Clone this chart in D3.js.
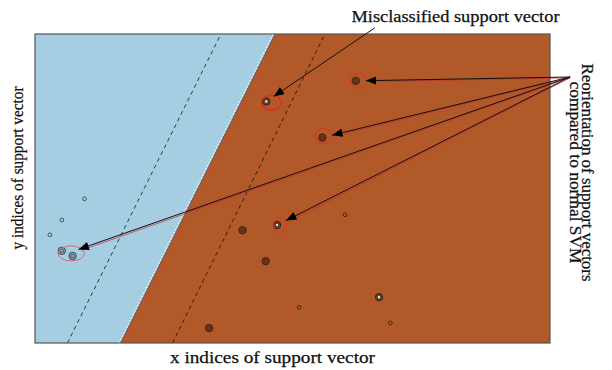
<!DOCTYPE html>
<html>
<head>
<meta charset="utf-8">
<script src="https://cdn.jsdelivr.net/npm/d3@7"></script>
<style>
  html, body { margin: 0; padding: 0; background: #fff; }
  svg { display: block; }
  text { font-family: "Liberation Serif", "Times New Roman", serif; fill: #111; stroke: #111; stroke-width: 0.25px; }
</style>
</head>
<body>
<svg id="chart" width="612" height="370"></svg>
<script>
// Feature space extent (x: 0..100, y: 0..60)
const xDomain = [0, 100];
const yDomain = [0, 60];

// Separating hyperplane and its two margins, given by x at y = 0 and at y = 60
const boundaryX = [16.6, 46.6];
const marginLeftX = [6.3, 36.1];
const marginRightX = [26.7, 56.3];

// Support vectors: position and kind (0 = plain, 1 = ringed, 2 = ringed with light core)
const pointX = [44.9, 62.3, 55.8, 9.6, 5.2, 2.9, 5.2, 7.3, 47.0, 40.3, 60.2, 44.8, 66.8, 51.3, 69.0, 33.8];
const pointY = [46.9, 50.9, 39.9, 28.0, 23.9, 21.0, 17.9, 16.9, 22.9, 21.9, 24.9, 15.9, 8.9, 6.9, 3.9, 2.9];
const pointKind = [2, 1, 1, 0, 0, 0, 1, 1, 2, 1, 0, 1, 2, 0, 0, 1];

// Misclassified vector and reoriented vectors (groups of point indices)
const misclassified = [0];
const reoriented = [[1], [2], [8], [6, 7]];

// Annotation anchors in feature space
const misLabelAnchor = [66.0, 61.2];
const reorientAnchor = [103.9, 51.65];

// Text
const xTitle = "x indices of support vector";
const yTitle = "y indices of support vector";
const misLabel = "Misclassified support vector";
const reorientLines = ["Reorientation of support vectors", "compared to normal SVM"];

const svg = d3.select("#chart");
const x = d3.scaleLinear().domain(xDomain).range([35, 550]);
const y = d3.scaleLinear().domain(yDomain).range([343, 34]);

const poly = d3.line().x(d => x(d[0])).y(d => y(d[1]));

// Class regions
svg.append("path")
  .attr("d", poly([[xDomain[0], yDomain[0]], [xDomain[0], yDomain[1]], [boundaryX[1], yDomain[1]], [boundaryX[0], yDomain[0]]]) + "Z")
  .attr("fill", "#a6cee3");
svg.append("path")
  .attr("d", poly([[boundaryX[0], yDomain[0]], [boundaryX[1], yDomain[1]], [xDomain[1], yDomain[1]], [xDomain[1], yDomain[0]]]) + "Z")
  .attr("fill", "#b15928");

// Ragged edge of the decision boundary
const bLine = [[boundaryX[0], yDomain[0]], [boundaryX[1], yDomain[1]]];
svg.append("path")
  .attr("d", poly(bLine))
  .attr("transform", "translate(-1.3,0)")
  .attr("stroke", "#eef2f4").attr("stroke-width", 1.8)
  .attr("stroke-dasharray", "1.6,1.8").attr("fill", "none");
svg.append("path")
  .attr("d", poly(bLine))
  .attr("stroke", "#3d4a55").attr("stroke-width", 0.8).attr("fill", "none");

// Margins
[[marginLeftX, "#2c3a48"], [marginRightX, "#3a1d0c"]].forEach(([m, c]) => {
  svg.append("path")
    .attr("d", poly([[m[0], yDomain[0]], [m[1], yDomain[1]]]))
    .attr("stroke", c).attr("stroke-width", 1)
    .attr("stroke-dasharray", "4,3.5").attr("fill", "none");
});

// Plot frame
svg.append("rect")
  .attr("x", x(xDomain[0])).attr("y", y(yDomain[1]))
  .attr("width", x(xDomain[1]) - x(xDomain[0]))
  .attr("height", y(yDomain[0]) - y(yDomain[1]))
  .attr("fill", "none").attr("stroke", "#555").attr("stroke-width", 1.2);

// Support vectors
const pts = pointX.map((v, i) => ({ x: v, y: pointY[i], k: pointKind[i] }));
const g = svg.append("g");
pts.forEach(p => {
  const cx = x(p.x), cy = y(p.y);
  const onBlue = p.x < boundaryX[0] + (boundaryX[1] - boundaryX[0]) * p.y / yDomain[1];
  const ink = onBlue ? "#3b4652" : "#3a2214";
  if (p.k === 0) {
    g.append("circle").attr("cx", cx).attr("cy", cy).attr("r", 1.9)
      .attr("fill", "none").attr("stroke", ink).attr("stroke-width", 0.9);
  } else {
    g.append("circle").attr("cx", cx).attr("cy", cy).attr("r", 3.7)
      .attr("fill", onBlue ? "#8fa6b4" : "#7a3c1c").attr("stroke", ink).attr("stroke-width", 1);
    g.append("circle").attr("cx", cx).attr("cy", cy).attr("r", 1.8)
      .attr("fill", p.k === 2 ? "#cfe3ee" : "none").attr("stroke", ink).attr("stroke-width", 0.8);
  }
});

// Red highlight rings
const center = idx => [d3.mean(idx, i => x(pointX[i])), d3.mean(idx, i => y(pointY[i]))];
function ring(idx, dx, dy, rx, ry, color, w) {
  const c = center(idx);
  svg.append("ellipse").attr("cx", c[0] + dx).attr("cy", c[1] + dy)
    .attr("rx", rx).attr("ry", ry)
    .attr("fill", "none").attr("stroke", color).attr("stroke-width", w);
}
ring(misclassified, 5, 1.2, 10, 7.6, "#e8262a", 1.3);
ring(reoriented[0], 2.5, 0, 8, 7.5, "#e0302c", 1);
ring(reoriented[1], 1, -1.5, 8.5, 7.5, "#e0302c", 1);
ring(reoriented[2], 3, 0, 6.5, 8.2, "#e0302c", 0.9);
ring(reoriented[3], 4, 0, 13.3, 7.5, "#d6606c", 0.9);

// Arrowheads
const defs = svg.append("defs");
defs.append("marker")
  .attr("id", "head").attr("viewBox", "0 0 10 8")
  .attr("refX", 10).attr("refY", 4)
  .attr("markerWidth", 10.5).attr("markerHeight", 8.4)
  .attr("markerUnits", "userSpaceOnUse")
  .attr("orient", "auto")
  .append("path").attr("d", "M0,0 L10,4 L0,8 Z").attr("fill", "#000");

function arrow(from, idx, gap, tinted) {
  const s = [x(from[0]), y(from[1])];
  const t = center(idx);
  const len = Math.hypot(s[0] - t[0], s[1] - t[1]);
  const e = [t[0] + (s[0] - t[0]) * gap / len, t[1] + (s[1] - t[1]) * gap / len];
  if (tinted) {
    svg.append("line").attr("x1", s[0]).attr("y1", s[1] + 0.8).attr("x2", e[0] + 3).attr("y2", e[1] + 0.8)
      .attr("stroke", "#c2303a").attr("stroke-width", 0.9).attr("opacity", 0.8);
  }
  svg.append("line").attr("x1", s[0]).attr("y1", s[1]).attr("x2", e[0]).attr("y2", e[1])
    .attr("stroke", "#111").attr("stroke-width", 1)
    .attr("marker-end", "url(#head)");
}
arrow(misLabelAnchor, misclassified, 9, false);
reoriented.forEach((grp, i) => arrow(reorientAnchor, grp, grp.length > 1 ? 12 : 10, true));

// Labels
svg.append("text")
  .attr("x", 351.5).attr("y", 22)
  .attr("font-size", 16.5)
  .attr("textLength", 208).attr("lengthAdjust", "spacingAndGlyphs")
  .text(misLabel);

svg.append("text")
  .attr("x", 170).attr("y", 363)
  .attr("font-size", 16.5)
  .attr("textLength", 205).attr("lengthAdjust", "spacingAndGlyphs")
  .text(xTitle);

svg.append("text")
  .attr("transform", "translate(23,168) rotate(-90)")
  .attr("text-anchor", "middle")
  .attr("font-size", 16.5)
  .attr("textLength", 163).attr("lengthAdjust", "spacingAndGlyphs")
  .text(yTitle);

const rightLen = [218, 182];
const rightBase = [582, 570];
reorientLines.forEach((line, i) => {
  svg.append("text")
    .attr("transform", `translate(${rightBase[i]},172.5) rotate(90)`)
    .attr("text-anchor", "middle")
    .attr("font-size", 16)
    .attr("textLength", rightLen[i]).attr("lengthAdjust", "spacingAndGlyphs")
    .text(line);
});
</script>
</body>
</html>
